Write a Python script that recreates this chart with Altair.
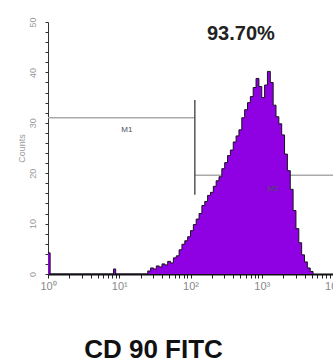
import altair as alt
import pandas as pd

# CD90-FITC histogram: left edge of each channel (log10 of intensity) and its event count
log_edges = [
    0.00, 0.03, 0.92, 0.95,
    1.40, 1.44, 1.48, 1.52, 1.56, 1.60, 1.64, 1.68, 1.72, 1.76,
    1.80, 1.84, 1.88, 1.92, 1.96, 2.00, 2.04, 2.08, 2.12, 2.16,
    2.20, 2.24, 2.28, 2.32, 2.36, 2.40, 2.44, 2.48, 2.52, 2.56,
    2.60, 2.64, 2.68, 2.72, 2.76, 2.80, 2.84, 2.88, 2.92, 2.96,
    3.00, 3.04, 3.08, 3.12, 3.16, 3.20, 3.24, 3.28, 3.32, 3.36,
    3.40, 3.44, 3.48, 3.52, 3.56, 3.60, 3.64, 3.68, 3.72,
]
counts = [
    4.2, 0.0, 1.0, 0.0,
    0.6, 1.2, 1.0, 1.6, 1.4, 2.0, 1.8, 2.5, 2.2, 3.2,
    3.6, 4.8, 5.9, 6.6, 7.4, 8.6, 9.8, 10.9, 12.0, 13.6,
    14.4, 15.6, 16.2, 17.4, 18.5, 19.3, 20.9, 22.1, 23.5, 24.6,
    26.2, 27.4, 28.6, 31.0, 32.6, 34.0, 35.2, 37.0, 38.8, 37.2,
    35.0, 37.5, 40.2, 38.0, 33.5, 31.2, 29.8, 27.6, 23.8, 20.5,
    16.8, 12.6, 9.0, 6.2, 3.8, 2.4, 1.2, 0.5, 0.0,
]

# marker gates M1 / M2
gate_names = ["M1", "M2"]
gate_lo = [1, 115]
gate_hi = [115, 10000]
gate_level = [31.0, 19.6]
gate_label_x = [12.8, 1440]
gate_label_y = [28.6, 16.8]
divider_x = 115
divider_lo, divider_hi = 15.7, 34.5

# share of events inside M2
pct_text = "93.70%"
pct_x, pct_y = 510, 46.4

hist = pd.DataFrame({"intensity": [10 ** e for e in log_edges], "count": counts})
gates = pd.DataFrame({
    "name": gate_names, "lo": gate_lo, "hi": gate_hi, "level": gate_level,
    "lx": gate_label_x, "ly": gate_label_y,
})
divider = pd.DataFrame({"x": [divider_x], "lo": [divider_lo], "hi": [divider_hi]})
pct = pd.DataFrame({"x": [pct_x], "y": [pct_y], "text": [pct_text]})

sup = {1: "10\u2070", 10: "10\u00b9", 100: "10\u00b2", 1000: "10\u00b3", 10000: "10\u2074"}
label_expr = " : ".join(f"datum.value == {k} ? '{v}'" for k, v in sup.items()) + " : ''"
x_ticks = [m * 10 ** k for k in range(4) for m in range(1, 10)] + [10000]
y_ticks = list(range(0, 51, 2))

x_scale = alt.Scale(type="log", domain=[1, 10000], nice=False)
y_scale = alt.Scale(domain=[0, 50], nice=False)

x_axis = alt.Axis(
    values=x_ticks, labelExpr=label_expr, labelOverlap=False, labelFlush=False,
    grid=False, domainColor="#111111", domainWidth=2, tickColor="#222222",
    tickSize=4, tickWidth=1, labelColor="#888888", labelFontSize=11,
    labelFont="Liberation Sans", labelPadding=2,
    title="CD 90 FITC", titleFont="Liberation Sans",
    titleFontSize=26, titleFontWeight="bold", titleColor="#111111",
    titleX=105, titleY=83, titleAlign="center", titleBaseline="alphabetic",
)
y_axis = alt.Axis(
    values=y_ticks, labelExpr="datum.value % 10 == 0 ? datum.label : ''",
    labelOverlap=False, labelAngle=270, labelAlign="center", labelBaseline="bottom",
    labelColor="#999999", labelFontSize=9, labelFont="Liberation Sans",
    labelPadding=8, grid=False, domainColor="#333333", domainWidth=1,
    tickColor="#333333", tickSize=3, tickWidth=1,
    title="Counts", titleFont="Liberation Sans", titleFontSize=9,
    titleFontWeight="normal", titleColor="#999999", titleAngle=270,
    titleX=-27, titleY=126, titleAlign="center", titleBaseline="middle",
)

X = lambda f: alt.X(f, scale=x_scale, axis=x_axis)
Y = lambda f: alt.Y(f, scale=y_scale, axis=y_axis)

gate_lines = alt.Chart(gates).mark_rule(color="#aaaaaa", strokeWidth=1.5).encode(
    x=X("lo:Q"), x2="hi:Q", y=Y("level:Q"),
)
divider_line = alt.Chart(divider).mark_rule(color="#555555", strokeWidth=1.5).encode(
    x=X("x:Q"), y=Y("lo:Q"), y2="hi:Q",
)
area = alt.Chart(hist).mark_area(interpolate="step-after", color="#8f00e3", opacity=1).encode(
    x=X("intensity:Q"), y=Y("count:Q"),
)
outline = alt.Chart(hist).mark_line(interpolate="step-after", color="#1a1020", strokeWidth=1).encode(
    x=X("intensity:Q"), y=Y("count:Q"),
)
gate_labels = alt.Chart(gates).mark_text(
    font="Liberation Sans", fontSize=8, color="#4a5060", baseline="middle"
).encode(x=X("lx:Q"), y=Y("ly:Q"), text="name:N")
pct_label = alt.Chart(pct).mark_text(
    font="Liberation Sans", fontSize=20, fontWeight="bold",
    color="#222222", baseline="alphabetic", align="center",
).encode(x=X("x:Q"), y=Y("y:Q"), text="text:N")

chart = alt.layer(
    gate_lines, divider_line, area, outline, gate_labels, pct_label
).properties(
    width=285, height=252,
    autosize=alt.AutoSizeParams(type="none"),
    padding={"left": 48, "top": 22, "right": 0, "bottom": 89},
    background="white",
).configure_view(stroke=None).configure_axis(labelOverlap=False)

chart.save("out.html", embed_options={"renderer": "svg", "actions": False})
